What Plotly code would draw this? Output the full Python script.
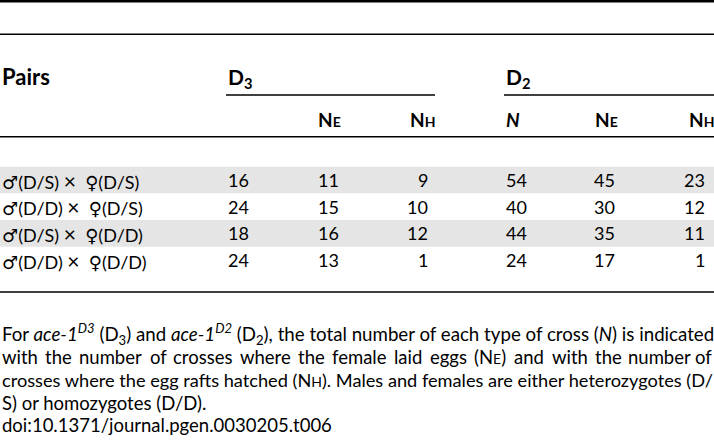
import plotly.graph_objects as go

# ---- data ----
MALE = "<span style='font-family:DejaVu Sans'>♂</span>"
FEMALE = "<span style='font-family:DejaVu Sans'>♀</span>"
TIMES = "<span style='font-size:21px'>×</span>"
pair_codes = [("D/S", "D/S"), ("D/D", "D/S"), ("D/S", "D/D"), ("D/D", "D/D")]
pairs = [MALE + "(%s)\u00a0" % m + TIMES + "\u00a0\u00a0" + FEMALE + "(%s)" % f
         for m, f in pair_codes]
d3_n = [16, 24, 18, 24]
d3_ne = [11, 15, 16, 13]
d3_nh = [9, 10, 12, 1]
d2_n = [54, 40, 44, 24]
d2_ne = [45, 30, 35, 17]
d2_nh = [23, 12, 11, 1]
group_labels = ["D<sub>3</sub>", "D<sub>2</sub>"]
first_header = "Pairs"

SC = "<span style='font-size:14px'>{}</span>"
sub_labels_d3 = ["N" + SC.format("E"), "N" + SC.format("H")]
sub_labels_d2 = ["<i>N</i>", "N" + SC.format("E"), "N" + SC.format("H")]

foot1 = ("For <i>ace-1</i><sup><i>D3</i></sup> (D<sub>3</sub>) and <i>ace-1</i><sup><i>D2</i></sup> "
         "(D<sub>2</sub>), the total number of each type of cross (<i>N</i>) is indicated")
# words of the justified 2nd footnote line: (markup, plain text for width)
foot2_words = [("with", "with"), ("the", "the"), ("number", "number"), ("of", "of"),
               ("crosses", "crosses"), ("where", "where"), ("the", "the"),
               ("female", "female"), ("laid", "laid"), ("eggs", "eggs"),
               ("(N" + SC.format("E") + ")", "(N)e"), ("and", "and"), ("with", "with"),
               ("the", "the"), ("number", "number"), ("of", "of")]
foot3 = ("crosses where the egg rafts hatched (N" + SC.format("H") + "). "
         "Males and females are either heterozygotes (D/")
foot4 = "S) or homozygotes (D/D)."
foot5 = "doi:10.1371/journal.pgen.0030205.t006"

# ---- layout constants ----
W, H = 714, 440
FONT = "Lato"
FS_BODY = 18
FS_FOOT = 18.5
row_y0, row_h = 180, 26.67

# approximate Lato advance widths (em) used only to justify line 2
CW = dict(a=.51, b=.57, c=.46, d=.57, e=.52, f=.32, g=.50, h=.56, i=.24, j=.24, k=.49,
          l=.24, m=.84, n=.56, o=.56, p=.56, q=.57, r=.37, s=.42, t=.35, u=.56, v=.50,
          w=.77, x=.49, y=.50, z=.45, N=.74)
CW.update({"(": .30, ")": .30})

def word_width(plain, size):
    w = 0.0
    for ch in plain:
        if ch == "e" and plain.startswith("(N"):
            w += 0.57 * 14  # small-cap letter
        else:
            w += CW.get(ch, 0.5) * size
    return w * 1.012

fig = go.Figure()
ann = []
shapes = []

def txt(x, y, s, size=FS_BODY, anchor="left", bold=False):
    ann.append(dict(x=x, y=y, xref="x", yref="y", text=("<b>%s</b>" % s) if bold else s,
                    showarrow=False, xanchor=anchor, yanchor="middle",
                    font=dict(family=FONT, size=size, color="black")))

def hline(y, x0, x1, w):
    shapes.append(dict(type="line", xref="x", yref="y", x0=x0, x1=x1, y0=y, y1=y,
                       line=dict(color="black", width=w)))

# rules
hline(1.2, 0, W, 2.8)
hline(34.3, 0, W, 1.6)
hline(95, 226, 435, 1.3)
hline(95, 504, W, 1.3)
hline(136.7, 0, W, 1.6)
hline(292, 0, W, 1.6)

# zebra bands
for i in range(len(pairs)):
    if i % 2 == 0:
        yc = row_y0 + i * row_h
        shapes.append(dict(type="rect", xref="x", yref="y", x0=0, x1=W,
                           y0=yc - row_h / 2, y1=yc + row_h / 2,
                           fillcolor="#e5e5e5", line=dict(width=0), layer="below"))

# headers
txt(0, 76, first_header, size=22, bold=True)
txt(226, 78, group_labels[0], size=21, bold=True)
txt(504, 78, group_labels[1], size=21, bold=True)
txt(316, 119, sub_labels_d3[0], size=19, bold=True)
txt(408, 119, sub_labels_d3[1], size=19, bold=True)
txt(504, 119, sub_labels_d2[0], size=19, bold=True)
txt(593, 119, sub_labels_d2[1], size=19, bold=True)
txt(687, 119, sub_labels_d2[2], size=19, bold=True)

# body
for i in range(len(pairs)):
    yc = row_y0 + i * row_h
    txt(0, yc, pairs[i])
    txt(226, yc, str(d3_n[i]))
    txt(316, yc, str(d3_ne[i]))
    txt(430, yc, str(d3_nh[i]), anchor="right")
    txt(504, yc, str(d2_n[i]))
    txt(592, yc, str(d2_ne[i]))
    txt(707, yc, str(d2_nh[i]), anchor="right")

# footnote
txt(0, 334, foot1, size=18.7)
widths = [word_width(p, FS_FOOT) for _, p in foot2_words]
gap = (W - sum(widths)) / (len(foot2_words) - 1)
xpos = 0.0
for k, (mk, _) in enumerate(foot2_words):
    if k == len(foot2_words) - 1:
        txt(W, 357, mk, size=FS_FOOT, anchor="right")
    else:
        txt(xpos, 357, mk, size=FS_FOOT)
    xpos += widths[k] + gap
txt(0, 380, foot3, size=18.2)
txt(0, 403, foot4, size=FS_FOOT)
txt(0, 425, foot5, size=FS_FOOT)

fig.update_layout(
    width=W, height=H, margin=dict(l=0, r=0, t=0, b=0),
    paper_bgcolor="white", plot_bgcolor="white",
    xaxis=dict(range=[0, W], visible=False, fixedrange=True),
    yaxis=dict(range=[H, 0], visible=False, fixedrange=True),
    annotations=ann, shapes=shapes, showlegend=False,
)
fig.write_html("out.html", config={"displayModeBar": False},
               post_script="document.body.style.margin='0';document.body.style.overflow='hidden';")
